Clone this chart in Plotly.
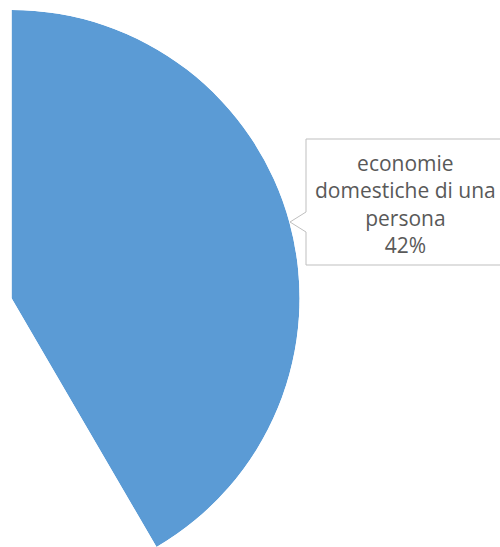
import plotly.graph_objects as go

categories = ["economie domestiche di una persona", "altre economie domestiche"]
values = [41.6, 58.4]
colors = ["#5B9BD5", "rgba(255,255,255,0)"]

W, H = 500, 547
total = sum(values)
widths = [v / total * 360 for v in values]
thetas = []
start = 0
for w in widths:
    thetas.append(start + w / 2)
    start += w

first_deg = widths[0]
end_ccw = 90 - first_deg  # sector end in standard (ccw from right) degrees

fig = go.Figure()
fig.add_trace(go.Barpolar(
    r=[1] * len(values),
    theta=thetas,
    width=widths,
    marker=dict(color=colors, line=dict(width=0)),
    text=categories,
    hoverinfo="text",
    showlegend=False,
))

def px(x):
    return x / W

def py(y):
    return 1 - y / H

fig.update_layout(
    width=W, height=H,
    margin=dict(l=0, r=0, t=0, b=0),
    paper_bgcolor="white",
    plot_bgcolor="white",
    polar=dict(
        domain=dict(x=[px(11), px(300)], y=[0, py(10)]),
        sector=[end_ccw, 90],
        bgcolor="rgba(0,0,0,0)",
        radialaxis=dict(visible=False, range=[0, 1], showgrid=False),
        angularaxis=dict(visible=False, rotation=90, direction="clockwise", showgrid=False),
        bargap=0,
    ),
)

# callout box with pointer
path = (f"M {px(506)},{py(139)} L {px(306)},{py(139)} L {px(306)},{py(212)} "
        f"L {px(290)},{py(222)} L {px(306)},{py(232)} L {px(306)},{py(265)} "
        f"L {px(506)},{py(265)} Z")
fig.add_shape(type="path", path=path, xref="paper", yref="paper",
              line=dict(color="#BFBFBF", width=1), fillcolor="white", layer="above")

pct = round(values[0] / total * 100)
fig.add_annotation(
    x=px(405), y=py(204), xref="paper", yref="paper",
    text="economie<br>domestiche di una<br>persona<br>" + f"{pct}%",
    showarrow=False, align="center",
    font=dict(family="Open Sans", size=21, color="#595959"),
    xanchor="center", yanchor="middle",
)

fig.write_html("out.html",
               config={"displayModeBar": False},
               post_script="document.body.style.margin='0';document.body.style.overflow='hidden';")
